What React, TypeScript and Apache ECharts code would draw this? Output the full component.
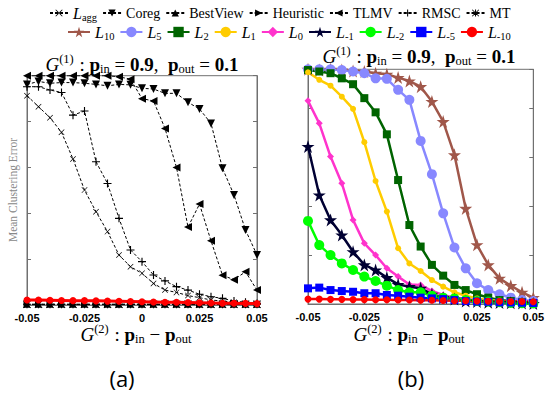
import React, { useEffect, useRef } from 'react';
import * as echarts from 'echarts';

// x grid: G^(2) p_in - p_out
const xValues = [-0.05, -0.045, -0.04, -0.035, -0.03, -0.025, -0.02, -0.015, -0.01, -0.005, 0, 0.005, 0.01, 0.015, 0.02, 0.025, 0.03, 0.035, 0.04, 0.045, 0.05];
const xTicks = [-0.05, -0.025, 0, 0.025, 0.05];
const xTickLabels = ['-0.05', '-0.025', '0', '0.025', '0.05'];

// panel (a) baselines
const lagg = [0.913, 0.865, 0.817, 0.753, 0.637, 0.501, 0.407, 0.32, 0.218, 0.167, 0.138, 0.094, 0.065, 0.055, 0.041, 0.032, 0.022, 0.017, 0.012, 0.007, 0.006];
const coreg = [0.962, 0.975, 0.967, 0.97, 0.97, 0.967, 0.962, 0.956, 0.962, 0.96, 0.945, 0.942, 0.923, 0.923, 0.884, 0.855, 0.792, 0.596, 0.48, 0.327, 0.218];
const bestView = [0.003, 0.003, 0.003, 0.003, 0.003, 0.003, 0.003, 0.003, 0.003, 0.003, 0.003, 0.003, 0.003, 0.003, 0.003, 0.003, 0.003, 0.003, 0.003, 0.003, 0.003];
const heuristic = [0.002, 0.002, 0.002, 0.002, 0.002, 0.002, 0.002, 0.002, 0.002, 0.002, 0.002, 0.002, 0.002, 0.002, 0.002, 0.002, 0.002, 0.002, 0.002, 0.002, 0.002];
const tlmv = [1, 1, 1, 1, 1, 1, 1, 1, 0.995, 0.985, 0.9, 0.89, 0.77, 0.6, 0.34, 0.44, 0.28, 0.13, 0.11, 0.145, 0.065];
const rmsc = [0.952, 0.952, 0.9375, 0.927, 0.828, 0.846, 0.625, 0.53, 0.378, 0.24, 0.189, 0.131, 0.105, 0.08, 0.065, 0.047, 0.036, 0.029, 0.017, 0.012, 0.007];
const mt = [0.003, 0.003, 0.003, 0.003, 0.003, 0.003, 0.003, 0.003, 0.003, 0.003, 0.003, 0.003, 0.003, 0.003, 0.003, 0.003, 0.003, 0.003, 0.003, 0.003, 0.003];
const lm10a = [0.022, 0.022, 0.021, 0.02, 0.019, 0.019, 0.018, 0.017, 0.016, 0.015, 0.014, 0.013, 0.012, 0.012, 0.011, 0.01, 0.009, 0.008, 0.008, 0.007, 0.006];

// panel (b) L_p variants
const l10 = [0.96, 0.957, 0.96, 0.957, 0.953, 0.951, 0.944, 0.94, 0.926, 0.912, 0.889, 0.828, 0.746, 0.61, 0.391, 0.242, 0.16, 0.105, 0.075, 0.048, 0.026];
const l5 = [0.96, 0.96, 0.96, 0.957, 0.951, 0.944, 0.923, 0.921, 0.876, 0.835, 0.667, 0.531, 0.371, 0.231, 0.146, 0.085, 0.057, 0.04, 0.026, 0.016, 0.012];
const l2 = [0.957, 0.951, 0.944, 0.923, 0.899, 0.842, 0.784, 0.694, 0.507, 0.323, 0.235, 0.16, 0.116, 0.078, 0.057, 0.04, 0.026, 0.016, 0.012, 0.007, 0.003];
const l1 = [0.948, 0.917, 0.893, 0.848, 0.798, 0.662, 0.503, 0.378, 0.228, 0.166, 0.135, 0.098, 0.071, 0.048, 0.034, 0.023, 0.016, 0.012, 0.007, 0.004, 0.003];
const l0 = [0.831, 0.739, 0.603, 0.494, 0.344, 0.248, 0.2, 0.146, 0.112, 0.08, 0.078, 0.053, 0.037, 0.026, 0.02, 0.015, 0.012, 0.01, 0.007, 0.004, 0.003];
const lm1 = [0.644, 0.446, 0.344, 0.282, 0.214, 0.16, 0.139, 0.108, 0.08, 0.071, 0.064, 0.04, 0.026, 0.02, 0.012, 0.01, 0.007, 0.006, 0.005, 0.004, 0.002];
const lm2 = [0.34, 0.241, 0.2, 0.166, 0.139, 0.112, 0.094, 0.075, 0.057, 0.048, 0.048, 0.034, 0.026, 0.023, 0.016, 0.012, 0.01, 0.007, 0.004, 0.003, 0.002];
const lm5 = [0.064, 0.067, 0.057, 0.053, 0.05, 0.044, 0.044, 0.037, 0.034, 0.03, 0.026, 0.023, 0.02, 0.016, 0.012, 0.01, 0.009, 0.007, 0.006, 0.005, 0.004];
const lm10 = [0.02, 0.02, 0.019, 0.019, 0.018, 0.018, 0.017, 0.017, 0.016, 0.016, 0.015, 0.015, 0.014, 0.013, 0.013, 0.012, 0.011, 0.011, 0.01, 0.01, 0.009];

const row1Names = ['Lagg', 'Coreg', 'BestView', 'Heuristic', 'TLMV', 'RMSC', 'MT'];
const row2Names = ['L10', 'L5', 'L2', 'L1', 'L0', 'L-1', 'L-2', 'L-5', 'L-10'];
const legendLabels: Record<string, string> = {
  Lagg: '{i|L}{s|agg}',
  Coreg: 'Coreg',
  BestView: 'BestView',
  Heuristic: 'Heuristic',
  TLMV: 'TLMV',
  RMSC: 'RMSC',
  MT: 'MT',
  L10: '{i|L}{s|10}',
  L5: '{i|L}{s|5}',
  L2: '{i|L}{s|2}',
  L1: '{i|L}{s|1}',
  L0: '{i|L}{s|0}',
  'L-1': '{i|L}{s|-1}',
  'L-2': '{i|L}{s|-2}',
  'L-5': '{i|L}{s|-5}',
  'L-10': '{i|L}{s|-10}',
};

const titleText = '{G|G}{sp|(1)}{n| : }{b|p}{sb|in}{n| = }{b|0.9}{n|,  }{b|p}{sb|out}{n| = }{b|0.1}';
const xNameText = '{G|G}{sp|(2)}{n| : }{b|p}{sb|in}{n| − }{b|p}{sb|out}';
const yNameText = 'Mean Clustering Error';

const SERIF = 'Liberation Serif';
const PLUS = 'path://M4.3,0H5.7V4.3H10V5.7H5.7V10H4.3V5.7H0V4.3H4.3Z';
const CROSS = 'path://M0.8,0L10,9.2L9.2,10L0,0.8Z M9.2,0L10,0.8L0.8,10L0,9.2Z';
const ASTER = 'path://M4.3,0H5.7V4.3H10V5.7H5.7V10H4.3V5.7H0V4.3H4.3Z M0.8,0L10,9.2L9.2,10L0,0.8Z M9.2,0L10,0.8L0.8,10L0,9.2Z';
const STAR = 'path://M50,0L61.2,34.5L97.6,34.5L68.2,55.9L79.4,90.5L50,69.1L20.6,90.5L31.8,55.9L2.4,34.5L38.8,34.5Z';

const richMath = {
  G: { fontFamily: SERIF, fontStyle: 'italic', fontSize: 19, fill: '#000' },
  sp: { fontFamily: SERIF, fontSize: 12.5, fill: '#000', padding: [0, 1, 10, 0] },
  n: { fontFamily: SERIF, fontSize: 19, fill: '#000' },
  b: { fontFamily: SERIF, fontWeight: 'bold', fontSize: 19, fill: '#000' },
  sb: { fontFamily: SERIF, fontSize: 12.5, fill: '#000', padding: [9, 0, 0, 0] },
};

const pts = (arr: number[]) => xValues.map((x, i) => [x, arr[i]]);

function blackSeries(name: string, data: number[], symbol: string, rotate: number, size: number) {
  return {
    name,
    type: 'line',
    xAxisIndex: 0,
    yAxisIndex: 0,
    data: pts(data),
    symbol,
    symbolRotate: rotate,
    symbolSize: size,
    lineStyle: { color: '#000', width: 1, type: [3, 2] },
    itemStyle: { color: '#000' },
    z: 2,
  };
}

function colorSeries(name: string, data: number[], color: string, symbol: string, size: number, xi: number) {
  return {
    name,
    type: 'line',
    xAxisIndex: xi,
    yAxisIndex: xi === 1 ? 2 : 0,
    data: pts(data),
    symbol,
    symbolSize: size,
    lineStyle: { color, width: 2.5 },
    itemStyle: { color },
    z: 3,
  };
}

const axisGray = '#707070';

function xAxisCfg(gridIndex: number) {
  return {
    type: 'value',
    gridIndex,
    min: -0.05,
    max: 0.05,
    interval: 0.025,
    axisLine: { show: true, lineStyle: { color: axisGray } },
    axisTick: { show: true, inside: true, length: 4, lineStyle: { color: axisGray } },
    splitLine: { show: false },
    axisLabel: {
      margin: 7,
      color: '#000',
      fontFamily: 'Liberation Sans',
      fontWeight: 'bold',
      fontSize: 11,
      formatter: (v: number) => {
        const k = xTicks.findIndex((t) => Math.abs(t - v) < 1e-9);
        return k >= 0 ? xTickLabels[k] : '';
      },
    },
  };
}

function yAxisCfg(gridIndex: number, max: number, position: string) {
  return {
    type: 'value',
    gridIndex,
    position,
    min: 0,
    max,
    interval: 0.2,
    axisLine: { show: true, onZero: false, lineStyle: { color: axisGray } },
    axisTick: { show: true, inside: true, length: 4, lineStyle: { color: axisGray } },
    axisLabel: { show: false },
    splitLine: { show: false },
  };
}

export default function App() {
  const ref = useRef<HTMLDivElement>(null);
  useEffect(() => {
    if (!ref.current) return;
    const chart = echarts.init(ref.current, null, { renderer: 'svg' });
    const legendText = {
      fontFamily: SERIF,
      fontSize: 14,
      color: '#000',
      rich: {
        i: { fontFamily: SERIF, fontStyle: 'italic', fontSize: 16, color: '#000' },
        s: { fontFamily: SERIF, fontSize: 10.5, color: '#000', padding: [9, 0, 0, 0] },
      },
    };
    const option: any = {
      animation: false,
      backgroundColor: '#fff',
      grid: [
        { left: 27, top: 75.7, width: 230, height: 229.3, show: true, borderColor: axisGray, borderWidth: 1, backgroundColor: 'transparent' },
        { left: 308, top: 69.3, width: 236, height: 234.7, show: true, borderColor: axisGray, borderWidth: 1, backgroundColor: 'transparent' },
      ],
      xAxis: [xAxisCfg(0), xAxisCfg(1)],
      yAxis: [yAxisCfg(0, 1, 'left'), yAxisCfg(0, 1, 'right'), yAxisCfg(1, 0.96, 'left'), yAxisCfg(1, 0.96, 'right')],
      legend: [
        {
          data: row1Names,
          left: 44,
          top: 0,
          width: 500,
          itemWidth: 18,
          itemHeight: 9,
          itemGap: 5,
          selectedMode: false,
          formatter: (n: string) => legendLabels[n],
          textStyle: legendText,
        },
        {
          data: row2Names,
          left: 62,
          top: 19,
          width: 480,
          itemWidth: 22,
          itemHeight: 13,
          itemGap: 5,
          selectedMode: false,
          formatter: (n: string) => legendLabels[n],
          textStyle: legendText,
        },
      ],
      graphic: [
        { type: 'text', x: 142, y: 64, style: { text: titleText, rich: richMath, align: 'center', verticalAlign: 'middle' } },
        { type: 'text', x: 419, y: 56, style: { text: titleText, rich: richMath, align: 'center', verticalAlign: 'middle' } },
        { type: 'text', x: 136, y: 334, style: { text: xNameText, rich: richMath, align: 'center', verticalAlign: 'middle' } },
        { type: 'text', x: 409, y: 334, style: { text: xNameText, rich: richMath, align: 'center', verticalAlign: 'middle' } },
        { type: 'text', x: 13, y: 190, rotation: Math.PI / 2, style: { text: yNameText, fill: '#888', fontFamily: SERIF, fontSize: 11.5, align: 'center', verticalAlign: 'middle' } },
        { type: 'text', x: 122, y: 378, style: { text: '(a)', fill: '#000', fontFamily: 'Open Sans', fontSize: 22, align: 'center', verticalAlign: 'middle' } },
        { type: 'text', x: 411, y: 378, style: { text: '(b)', fill: '#000', fontFamily: 'Open Sans', fontSize: 22, align: 'center', verticalAlign: 'middle' } },
      ],
      series: [
        colorSeries('L10', l10, '#a0574a', STAR, 13, 1),
        colorSeries('L5', l5, '#8888ff', 'circle', 10, 1),
        colorSeries('L2', l2, '#006400', 'rect', 8, 1),
        colorSeries('L1', l1, '#ffcc00', 'circle', 6, 1),
        colorSeries('L0', l0, '#ff33cc', 'diamond', 7, 1),
        colorSeries('L-1', lm1, '#000033', STAR, 13, 1),
        colorSeries('L-2', lm2, '#00ff00', 'circle', 10, 1),
        colorSeries('L-5', lm5, '#0000ff', 'rect', 8, 1),
        colorSeries('L-10', lm10, '#ff0000', 'circle', 7, 1),
        blackSeries('Lagg', lagg, CROSS, 0, 6),
        blackSeries('Coreg', coreg, 'triangle', 180, 8),
        blackSeries('BestView', bestView, 'triangle', 0, 7),
        blackSeries('Heuristic', heuristic, 'triangle', -90, 7),
        blackSeries('TLMV', tlmv, 'triangle', 90, 8),
        blackSeries('RMSC', rmsc, PLUS, 0, 8),
        blackSeries('MT', mt, ASTER, 0, 8),
        { ...colorSeries('L-10', lm10a, '#ff0000', 'circle', 7, 0), lineStyle: { color: '#ff0000', width: 3 } },
      ],
    };
    chart.setOption(option);
    return () => chart.dispose();
  }, []);
  return <div ref={ref} style={{ position: 'absolute', left: 0, top: 0, width: 547, height: 394 }} />;
}
